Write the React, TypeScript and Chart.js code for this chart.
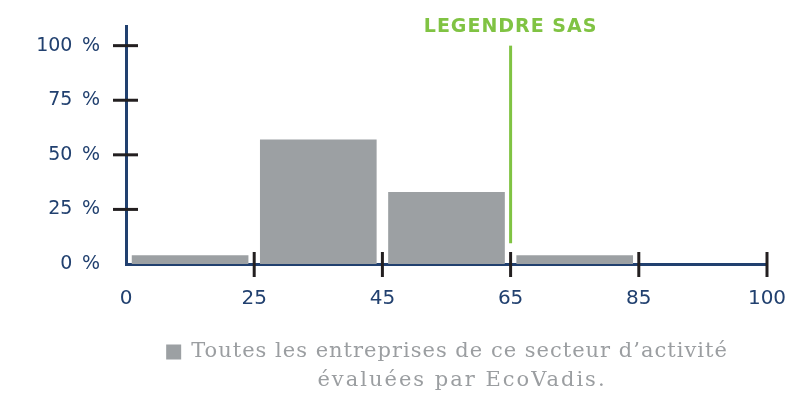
import React, { useEffect, useRef } from "react";
import { Chart, registerables } from "chart.js";

Chart.register(...registerables);

// Bin edges shown on the x axis
const xTickLabels = ["0", "25", "45", "65", "85", "100"];
// Share of companies (%) in each bin
const binShares = [4, 57, 33, 4, 0];
// Y axis tick values (%)
const yTickValues = [0, 25, 50, 75, 100];
// Company score marker
const companyName = "LEGENDRE SAS";
const companyScore = 65;
// Legend text
const legendLine1 = "Toutes les entreprises de ce secteur d\u2019activité";
const legendLine2 = "évaluées par EcoVadis.";

const NAVY = "#21406f";
const BAR = "#9ca0a3";
const GREEN = "#80c343";
const TICK = "#231f20";

const tickMarksPlugin = {
  id: "tickMarks",
  afterDatasetsDraw(chart: any) {
    const { ctx, scales } = chart;
    const x = scales.x;
    const y = scales.y;
    ctx.save();
    ctx.strokeStyle = TICK;
    ctx.lineWidth = 3;
    for (let i = 0; i < xTickLabels.length; i++) {
      if (i === 0) continue;
      const px = x.getPixelForValue(i);
      const py = y.getPixelForValue(0);
      ctx.beginPath();
      ctx.moveTo(px, py - 12);
      ctx.lineTo(px, py + 13);
      ctx.stroke();
    }
    for (const v of yTickValues) {
      if (v === 0) continue;
      const py = y.getPixelForValue(v);
      const px = x.getPixelForValue(0);
      ctx.beginPath();
      ctx.moveTo(px - 13, py);
      ctx.lineTo(px + 12, py);
      ctx.stroke();
    }
    const idx = xTickLabels.indexOf(String(companyScore));
    const mx = x.getPixelForValue(idx);
    ctx.strokeStyle = GREEN;
    ctx.lineWidth = 3;
    ctx.beginPath();
    ctx.moveTo(mx, y.getPixelForValue(100));
    ctx.lineTo(mx, y.getPixelForValue(9.5));
    ctx.stroke();
    ctx.fillStyle = GREEN;
    ctx.font = "bold 19px 'DejaVu Sans'";
    try {
      (ctx as any).letterSpacing = "1px";
    } catch (e) {}
    ctx.textAlign = "center";
    ctx.textBaseline = "middle";
    ctx.fillText(companyName, mx, 27);
    try {
      (ctx as any).letterSpacing = "0px";
    } catch (e) {}
    ctx.restore();
  },
};

const legendPlugin = {
  id: "customLegend",
  afterDraw(chart: any) {
    const { ctx } = chart;
    ctx.save();
    ctx.font = "21px 'DejaVu Serif'";
    try {
      (ctx as any).letterSpacing = "1px";
    } catch (e) {}
    ctx.textBaseline = "middle";
    ctx.textAlign = "left";
    const boxSize = 15;
    const gap = 10;
    const w1 = ctx.measureText(legendLine1).width;
    const total = boxSize + gap + w1;
    const cx = 447;
    const startX = cx - total / 2;
    const y1 = 352;
    ctx.fillStyle = BAR;
    ctx.fillRect(startX, y1 - boxSize / 2, boxSize, boxSize);
    ctx.fillStyle = "#9b9ea1";
    ctx.fillText(legendLine1, startX + boxSize + gap, y1);
    try {
      (ctx as any).letterSpacing = "2px";
    } catch (e) {}
    ctx.textAlign = "center";
    ctx.fillText(legendLine2, 462, 381);
    try {
      (ctx as any).letterSpacing = "0px";
    } catch (e) {}
    ctx.restore();
  },
};

export default function App() {
  const canvasRef = useRef<HTMLCanvasElement | null>(null);

  useEffect(() => {
    document.body.style.margin = "0";
    const canvas = canvasRef.current;
    if (!canvas) return;
    const chart = new Chart(canvas, {
      type: "bar",
      data: {
        datasets: [
          {
            label: "Toutes les entreprises",
            data: binShares.map((v, i) => ({ x: i + 0.5, y: v })),
            backgroundColor: BAR,
            borderWidth: 0,
            barPercentage: 1,
            categoryPercentage: 0.91,
          },
        ],
      },
      options: {
        animation: false,
        responsive: false,
        maintainAspectRatio: false,
        layout: { padding: { top: 26, right: 44, left: 0, bottom: 0 } },
        plugins: {
          legend: { display: false },
          tooltip: { enabled: false },
        },
        scales: {
          x: {
            type: "linear",
            offset: false,
            min: 0,
            max: xTickLabels.length - 1,
            grid: { display: false, drawTicks: false, offset: false },
            border: { display: true, color: NAVY, width: 3 },
            afterBuildTicks: (scale: any) => {
              scale.ticks = xTickLabels.map((_, i) => ({ value: i }));
            },
            ticks: {
              autoSkip: false,
              maxRotation: 0,
              padding: 23,
              color: NAVY,
              font: { family: "'DejaVu Sans'", size: 20 },
              callback: (v: any) => xTickLabels[Math.round(Number(v))],
            },
            afterFit: (scale: any) => {
              scale.height = 141;
              scale.paddingLeft = 0;
              scale.paddingRight = 0;
            },
          },
          y: {
            type: "linear",
            min: 0,
            max: 109,
            grid: { display: false, drawTicks: false },
            border: { display: true, color: NAVY, width: 3 },
            afterBuildTicks: (scale: any) => {
              scale.ticks = yTickValues.map((v) => ({ value: v }));
            },
            ticks: {
              padding: 26,
              color: NAVY,
              font: { family: "'DejaVu Sans'", size: 19 },
              callback: (v: any) => `${v}\u2002%`,
            },
            afterFit: (scale: any) => {
              scale.width = 126;
              scale.paddingTop = 0;
              scale.paddingBottom = 0;
            },
          },
        },
      },
      plugins: [tickMarksPlugin, legendPlugin],
    } as any);
    return () => chart.destroy();
  }, []);

  return (
    <div style={{ position: "absolute", left: 0, top: 0, width: 811, height: 405, background: "#fff" }}>
      <canvas ref={canvasRef} width={811} height={405} style={{ width: 811, height: 405 }} />
    </div>
  );
}
